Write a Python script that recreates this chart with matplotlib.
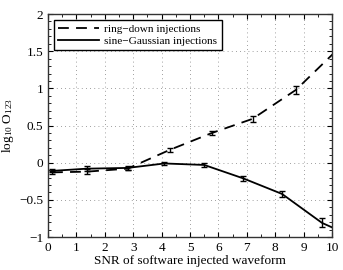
import matplotlib
matplotlib.use("Agg")
import matplotlib.pyplot as plt
from matplotlib.lines import Line2D
from matplotlib.ticker import MultipleLocator

plt.rcParams['font.family'] = ['Liberation Serif', 'DejaVu Serif']
plt.rcParams['mathtext.fontset'] = 'custom'
plt.rcParams['mathtext.rm'] = 'Liberation Serif'
plt.rcParams['mathtext.it'] = 'Liberation Serif'

# ring-down injections (dashed)
rd_snr = [0.14, 1.37, 2.8, 4.3, 5.77, 7.2, 8.73, 10.16]
rd_val = [-0.13, -0.12, -0.08, 0.175, 0.40, 0.59, 0.98, 1.51]
rd_err = [0.02, 0.03, 0.02, 0.025, 0.03, 0.04, 0.05, 0.05]

# sine-Gaussian injections (solid)
sg_snr = [0.14, 1.37, 2.8, 4.1, 5.5, 6.87, 8.24, 9.65, 11.0]
sg_val = [-0.11, -0.08, -0.07, -0.01, -0.03, -0.21, -0.42, -0.81, -1.04]
sg_err = [0.02, 0.035, 0.025, 0.02, 0.03, 0.03, 0.04, 0.06, 0.06]

labels = ['ring\u2212down injections', 'sine\u2212Gaussian injections']
dash = (0, (6, 4))

fig = plt.figure(figsize=(3.43, 2.70), dpi=100)
ax = fig.add_axes([0.14, 0.122, 0.828, 0.826])

ax.errorbar(rd_snr, rd_val, yerr=rd_err, color='black', ls=dash, lw=1.3,
            capsize=2.5, elinewidth=1.0, capthick=1.0)
ax.errorbar(sg_snr, sg_val, yerr=sg_err, color='black', ls='-', lw=1.3,
            capsize=2.5, elinewidth=1.0, capthick=1.0)

ax.set_xlim(0, 10)
ax.set_ylim(-1, 2)
ax.xaxis.set_major_locator(MultipleLocator(1))
ax.xaxis.set_minor_locator(MultipleLocator(0.5))
ax.yaxis.set_major_locator(MultipleLocator(0.5))
ax.yaxis.set_minor_locator(MultipleLocator(0.1))
ax.tick_params(which='both', direction='in', top=True, right=True, labelsize=9.5)
ax.tick_params(which='major', length=3.5)
ax.tick_params(which='minor', length=2)
ax.set_yticklabels([('\u2212%g' % abs(t)) if t < 0 else ('%g' % t)
                    for t in ax.get_yticks()])
ax.grid(True, which='major', ls=(0, (1, 4)), color='black', lw=0.6, alpha=0.5)

for s in ax.spines.values():
    s.set_linewidth(1.0)
    s.set_color('#333333')

ax.set_xlabel('SNR of software injected waveform', fontsize=9.5, labelpad=1)
ax.set_ylabel('log$_{10}$ O$_{123}$', fontsize=9.5, labelpad=2)

handles = [Line2D([], [], color='black', ls=dash, lw=1.3),
           Line2D([], [], color='black', ls='-', lw=1.3)]
leg = ax.legend(handles, labels, loc='upper left', fontsize=8.1, fancybox=False,
                framealpha=1, edgecolor='black', handlelength=3.6,
                borderaxespad=0.5, borderpad=0.4, labelspacing=0.15,
                handletextpad=0.5)
leg.get_frame().set_linewidth(1.0)

fig.savefig('out.png', dpi=100)
